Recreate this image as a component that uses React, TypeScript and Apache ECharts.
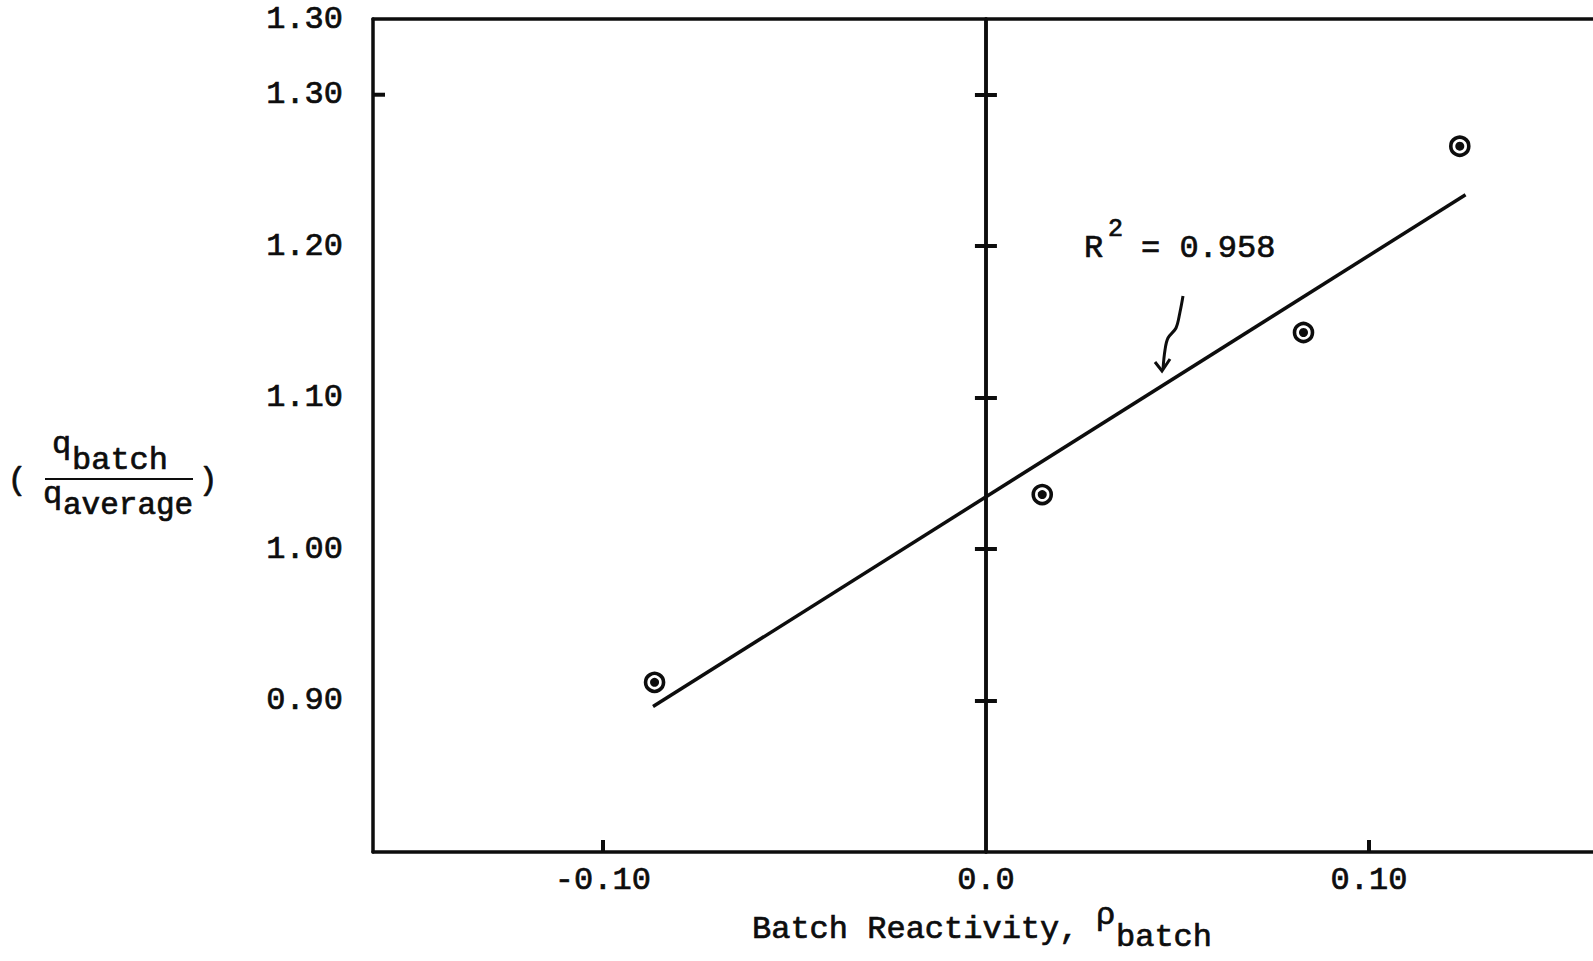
import { useEffect, useRef } from 'react';
import * as echarts from 'echarts';

// Measured batches: reactivity vs. normalized batch power
const reactivity = [-0.0865, 0.0147, 0.0829, 0.1237];
const powerRatio = [0.912, 1.036, 1.143, 1.266];

// Least-squares fit line endpoints
const fitReactivity = [-0.0869, 0.1252];
const fitRatio = [0.896, 1.234];

// Axis ticks and their printed labels
const xTickValues = [-0.1, 0, 0.1];
const xTickLabels = ['-0.10', '0.0', '0.10'];
const yTickValues = [0.9, 1.0, 1.1, 1.2, 1.3, 1.35];
const yTickLabels = ['0.90', '1.00', '1.10', '1.20', '1.30', '1.30'];
const zeroAxisTicks = [0.9, 1.0, 1.1, 1.2, 1.3];
const frameTickValue = 1.3;

const rSquared = '0.958';

const X_MIN = -0.16;
const X_MAX = 0.165;

const FONT = "'Liberation Mono', 'Courier New', monospace";
const INK = '#0d0d0d';
const FS = 32;
const WEIGHT = 0.7;

function labelFor(values: number[], labels: string[], v: number) {
  for (let i = 0; i < values.length; i++) {
    if (Math.abs(values[i] - v) < 1e-6) return labels[i];
  }
  return '';
}

function txt(text: string, x: number, y: number, size = FS, align = 'left') {
  return {
    type: 'text',
    x,
    y,
    style: {
      text,
      fill: INK,
      stroke: INK,
      lineWidth: WEIGHT,
      fontFamily: FONT,
      fontSize: size,
      align,
      verticalAlign: 'middle',
    },
  };
}

export default function App() {
  const ref = useRef<HTMLDivElement>(null);

  useEffect(() => {
    if (!ref.current) return;
    const chart = echarts.init(ref.current, undefined, { renderer: 'svg' });

    const axisLine = { lineStyle: { color: INK, width: 3.5 } };
    const yRange = { min: 0.8, max: 1.35, interval: 0.05 };
    const labelText = {
      color: INK,
      fontFamily: FONT,
      fontSize: FS,
      textBorderColor: INK,
      textBorderWidth: WEIGHT,
    };

    const annotations: any[] = [
      // y-axis title: ( q_batch / q_average )
      txt('(', 17, 480, FS, 'center'),
      txt('q', 52, 444),
      txt('batch', 72, 460),
      { type: 'line', shape: { x1: 45, y1: 479, x2: 193, y2: 479 }, style: { stroke: INK, lineWidth: 2 } },
      txt('q', 43, 494),
      txt('average', 63, 505, 31),
      txt(')', 208, 480, FS, 'center'),
      // x-axis title
      txt('Batch Reactivity,', 752, 929),
      txt('\u03c1', 1096, 915),
      txt('batch', 1116, 937),
      // fit annotation
      txt('R', 1084, 248),
      txt('2', 1108, 229, 25),
      txt('= ' + rSquared, 1141, 248),
      {
        type: 'polyline',
        shape: {
          points: [[1183, 296], [1180, 312], [1176, 328], [1168, 338], [1165, 350], [1163, 369]],
          smooth: 0.35,
        },
        style: { stroke: INK, lineWidth: 3, fill: null },
      },
      {
        type: 'polyline',
        shape: { points: [[1155, 362], [1162, 371], [1170, 359]] },
        style: { stroke: INK, lineWidth: 3, fill: null },
      },
    ];

    chart.setOption({
      animation: false,
      backgroundColor: '#ffffff',
      grid: { left: 373, top: 19, width: 1245, height: 833, containLabel: false },
      xAxis: [
        {
          type: 'value',
          position: 'bottom',
          min: X_MIN,
          max: X_MAX,
          interval: 0.01,
          axisLine: { ...axisLine, onZero: false },
          axisTick: {
            show: true,
            inside: true,
            length: 12,
            customValues: [-0.1, 0.1],
            lineStyle: { color: INK, width: 4 },
          },
          axisLabel: {
            ...labelText,
            customValues: xTickValues,
            formatter: (v: number) => labelFor(xTickValues, xTickLabels, v),
            margin: 12,
          },
          splitLine: { show: false },
        },
        {
          type: 'value',
          position: 'top',
          min: X_MIN,
          max: X_MAX,
          interval: 0.01,
          axisLine: { ...axisLine, onZero: false },
          axisTick: { show: false },
          axisLabel: { show: false },
          splitLine: { show: false },
        },
      ],
      yAxis: [
        {
          type: 'value',
          position: 'left',
          ...yRange,
          axisLine: { ...axisLine, onZero: false },
          axisTick: { show: false },
          axisLabel: {
            ...labelText,
            customValues: yTickValues,
            formatter: (v: number) => labelFor(yTickValues, yTickLabels, v),
            margin: 30,
            padding: [11, 0, 0, 0],
          },
          splitLine: { show: false },
        },
        {
          // zero-reactivity axis, one half of the cross ticks
          type: 'value',
          position: 'left',
          ...yRange,
          axisLine: { ...axisLine, onZero: true, onZeroAxisIndex: 0 },
          axisTick: {
            show: true,
            inside: true,
            length: 11,
            customValues: zeroAxisTicks,
            lineStyle: { color: INK, width: 4 },
          },
          axisLabel: { show: false },
          splitLine: { show: false },
        },
        {
          // zero-reactivity axis, other half of the cross ticks
          type: 'value',
          position: 'left',
          ...yRange,
          axisLine: { ...axisLine, onZero: true, onZeroAxisIndex: 0 },
          axisTick: {
            show: true,
            inside: false,
            length: 11,
            customValues: zeroAxisTicks,
            lineStyle: { color: INK, width: 4 },
          },
          axisLabel: { show: false },
          splitLine: { show: false },
        },
      ],
      series: [
        {
          name: 'fit',
          type: 'line',
          xAxisIndex: 0,
          yAxisIndex: 0,
          data: fitReactivity.map((x, i) => [x, fitRatio[i]]),
          symbol: 'none',
          lineStyle: { color: INK, width: 3.5 },
          z: 2,
        },
        {
          name: 'batch ring',
          type: 'scatter',
          xAxisIndex: 0,
          yAxisIndex: 0,
          data: reactivity.map((x, i) => [x, powerRatio[i]]),
          symbol: 'circle',
          symbolSize: 18,
          itemStyle: { color: '#ffffff', borderColor: INK, borderWidth: 3.6, opacity: 1 },
          z: 3,
        },
        {
          name: 'batch dot',
          type: 'scatter',
          xAxisIndex: 0,
          yAxisIndex: 0,
          data: reactivity.map((x, i) => [x, powerRatio[i]]),
          symbol: 'circle',
          symbolSize: 9,
          itemStyle: { color: INK, opacity: 1 },
          z: 4,
        },
      ],
      graphic: annotations,
    });

    // inward tick on the left frame, placed through the axis scales
    const p = chart.convertToPixel({ xAxisIndex: 0, yAxisIndex: 0 }, [X_MIN, frameTickValue]) as number[];
    if (p && isFinite(p[0]) && isFinite(p[1])) {
      chart.setOption({
        graphic: [
          ...annotations,
          {
            type: 'line',
            shape: { x1: p[0], y1: p[1], x2: p[0] + 12, y2: p[1] },
            style: { stroke: INK, lineWidth: 4 },
          },
        ],
      });
    }

    return () => chart.dispose();
  }, []);

  return (
    <div
      style={{
        position: 'absolute',
        left: 0,
        top: 0,
        width: 1593,
        height: 961,
        overflow: 'hidden',
        background: '#ffffff',
      }}
    >
      <div ref={ref} style={{ width: 1640, height: 961 }} />
    </div>
  );
}
